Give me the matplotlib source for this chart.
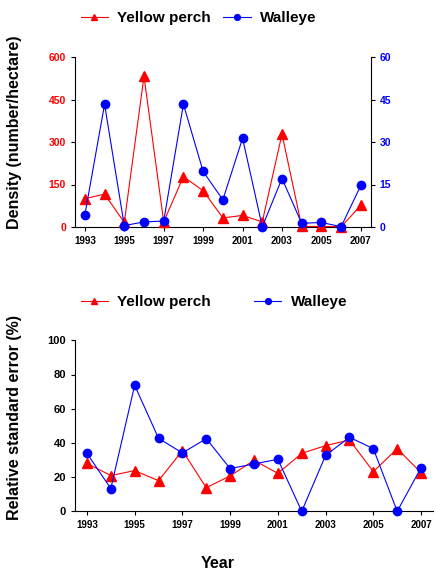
import matplotlib
matplotlib.use('Agg')
import matplotlib.pyplot as plt

plt.rcParams['font.family'] = ['Liberation Sans Narrow', 'Liberation Sans', 'DejaVu Sans']

# ---- data ----
years = list(range(1993, 2008))

perch_density = [100, 116, 16, 532, 18, 178, 128, 32, 41, 18, 328, 2, 2, 1, 76]
walleye_density = [4.3, 43.3, 0.5, 1.8, 2.1, 43.3, 19.6, 9.6, 31.3, 0.1, 17.1, 1.3, 1.6, 0.1, 14.7]

perch_rse = [28.0, 20.9, 23.8, 17.9, 35.5, 13.8, 20.7, 29.8, 22.2, 33.9, 38.4, 41.7, 23.2, 36.6, 22.6]
walleye_rse = [33.9, 13.3, 73.7, 42.7, 34.1, 42.5, 25.0, 27.7, 30.4, 0.0, 32.7, 43.3, 36.6, 0.0, 25.5]

xticks = [1993, 1995, 1997, 1999, 2001, 2003, 2005, 2007]
left_ticks = [0, 150, 300, 450, 600]
right_ticks = [0, 15, 30, 45, 60]
rse_ticks = [0, 20, 40, 60, 80, 100]

RED = '#ff0000'
BLUE = '#0000ff'
W, H = 436, 574
BOLD = ['Liberation Sans', 'DejaVu Sans']

fig = plt.figure(figsize=(W / 100, H / 100), dpi=100)


def style_axis(ax):
    ax.spines['top'].set_visible(False)
    for s in ax.spines.values():
        s.set_linewidth(0.8)
    ax.tick_params(direction='out', length=3, width=0.8)
    for lab in ax.get_xticklabels() + ax.get_yticklabels():
        lab.set_fontweight('bold')


# ---- top panel: density ----
ax1 = fig.add_axes([75 / W, 1 - 227 / H, 295.7 / W, 170 / H])
l1, = ax1.plot(years, perch_density, color=RED, lw=0.8, marker='^', ms=6.5,
               label='Yellow perch', clip_on=False, zorder=3)
ax1.set_xlim(1992.5, 2007.5)
ax1.set_ylim(0, 600)
ax1.set_yticks(left_ticks)
ax1.set_xticks(xticks)
ax1.tick_params(axis='y', labelcolor=RED, labelsize=7.5)
ax1.tick_params(axis='x', labelsize=7)
ax1.spines['right'].set_visible(False)
style_axis(ax1)

ax2 = ax1.twinx()
l2, = ax2.plot(years, walleye_density, color=BLUE, lw=0.8, marker='o', ms=6,
               label='Walleye', clip_on=False, zorder=3)
ax2.set_ylim(0, 60)
ax2.set_yticks(right_ticks)
ax2.tick_params(axis='y', labelsize=7.5, labelcolor=BLUE)
style_axis(ax2)
ax2.spines['left'].set_visible(False)
ax2.spines['bottom'].set_visible(False)

fig.legend(handles=[l1, l2], loc='center left', bbox_to_anchor=(73 / W, 1 - 18 / H),
           ncol=2, frameon=False, markerscale=0.7, handlelength=1.8,
           handletextpad=0.6, columnspacing=0.8, borderpad=0,
           prop={'weight': 'bold', 'size': 11, 'family': BOLD})

# ---- bottom panel: relative standard error ----
ax3 = fig.add_axes([75 / W, 1 - 511.3 / H, 358 / W, 171 / H])
p1, = ax3.plot(years, perch_rse, color=RED, lw=0.8, marker='^', ms=6.5,
               label='Yellow perch', clip_on=False, zorder=3)
p2, = ax3.plot(years, walleye_rse, color=BLUE, lw=0.8, marker='o', ms=6,
               label='Walleye', clip_on=False, zorder=3)
ax3.set_xlim(1992.5, 2007.5)
ax3.set_ylim(0, 100)
ax3.set_xticks(xticks)
ax3.set_yticks(rse_ticks)
ax3.spines['right'].set_visible(False)
ax3.tick_params(axis='y', labelsize=8)
ax3.tick_params(axis='x', labelsize=7)
style_axis(ax3)

fig.legend(handles=[p1, p2], loc='center left', bbox_to_anchor=(73 / W, 1 - 302 / H),
           ncol=2, frameon=False, markerscale=0.7, handlelength=1.8,
           handletextpad=0.6, columnspacing=2.8, borderpad=0,
           prop={'weight': 'bold', 'size': 11, 'family': BOLD})

# ---- axis titles ----
fig.text(15 / W, 1 - 132 / H, 'Density (number/hectare)', rotation=90,
         ha='center', va='center', fontsize=11.5, fontweight='bold', family=BOLD)
fig.text(15 / W, 1 - 417 / H, 'Relative standard error (%)', rotation=90,
         ha='center', va='center', fontsize=11.5, fontweight='bold', family=BOLD)
fig.text(218 / W, 1 - 563 / H, 'Year', ha='center', va='center',
         fontsize=11.5, fontweight='bold', family=BOLD)

fig.savefig('out.png', dpi=100)
